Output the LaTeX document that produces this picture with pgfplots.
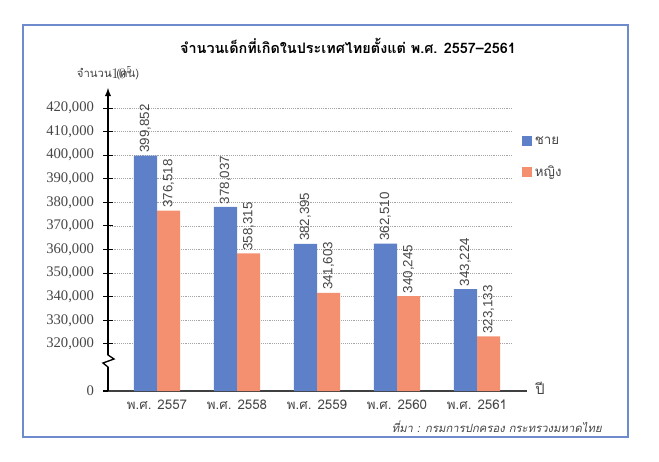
\documentclass[border=0pt]{standalone}
\usepackage{fontspec}
\usepackage{pgfplots}
\usepackage{pgfplotstable}
\pgfplotsset{compat=1.18}
\setmainfont[Script=Thai]{Loma}
\newfontfamily\thaifont[Script=Thai]{Loma}
\newfontfamily\thaisl[Script=Thai,FakeSlant=0.2]{Loma}
\newfontfamily\arialf{Liberation Sans}
\newfontfamily\timesf{Liberation Serif}
\definecolor{barblue}{RGB}{94,128,200}
\definecolor{barorange}{RGB}{244,144,112}
\definecolor{framecol}{RGB}{110,140,205}
\definecolor{labgray}{RGB}{70,70,70}

\pgfplotstableread{
x male female mlab flab
0 399852 376518 399,852 376,518
1 378037 358315 378,037 358,315
2 362395 341603 382,395 341,603
3 362510 340245 362,510 340,245
4 343224 323133 343,224 323,133
}\births

\begin{document}
\begin{tikzpicture}
\begin{axis}[
  scale only axis,
  width=303.75pt, height=227.25pt,
  xmin=-0.6125, xmax=4.45,
  ymin=0, ymax=128500,
  ybar,
  bar width=0.29,
  axis x line=bottom, axis y line=left,
  x axis line style={-, line width=1.1pt, black!75},
  y axis line style={-latex, line width=1.1pt, black},
  xtick={0,1,2,3,4},
  xticklabels={พ.ศ. 2557,พ.ศ. 2558,พ.ศ. 2559,พ.ศ. 2560,พ.ศ. 2561},
  x tick label style={font=\thaifont\fontsize{10}{12}\selectfont, text=labgray},
  major x tick style={draw=none},
  ytick={0,20000,30000,40000,50000,60000,70000,80000,90000,100000,110000,120000},
  yticklabels={0,{320,000},{330,000},{340,000},{350,000},{360,000},{370,000},{380,000},{390,000},{400,000},{410,000},{420,000}},
  y tick label style={font=\timesf\fontsize{11}{12}\selectfont, text=labgray, xshift=-3.5pt},
  major y tick style={black, line width=0.8pt},
  tick align=center, major tick length=7pt,
  ymajorgrids, grid style={densely dotted, gray!70, line width=0.6pt},
  clip=false,
  legend style={at={(1.022,0.85)}, anchor=north west, draw=none, fill=none,
    font=\thaifont\fontsize{10}{12}\selectfont, row sep=10.5pt, inner sep=0pt,
    text=labgray},
  legend cell align=left,
  nodes near coords,
  point meta=explicit symbolic,
  every node near coord/.append style={rotate=90, anchor=west, inner sep=2pt,
    font=\arialf\fontsize{10}{12}\selectfont, text=labgray},
]
\addplot[fill=barblue, draw=none, bar shift=-0.145,
  legend image code/.code={\fill[barblue] (0pt,-3.75pt) rectangle (7.5pt,3.75pt);}]
  table[x=x, y expr=\thisrow{male}-300000, meta=mlab]{\births};
\addlegendentry{ชาย}
\addplot[fill=barorange, draw=none, bar shift=0.145,
  legend image code/.code={\fill[barorange] (0pt,-3.75pt) rectangle (7.5pt,3.75pt);}]
  table[x=x, y expr=\thisrow{female}-300000, meta=flab]{\births};
\addlegendentry{หญิง}
\coordinate (bl) at (rel axis cs:0,0);
\end{axis}
% x axis extension
\draw[line width=1.1pt, black!75] ([xshift=303pt]bl) -- ([xshift=314.25pt]bl);
% axis break
\draw[white, line width=3pt] ([yshift=18pt]bl) -- ([yshift=27pt]bl);
\draw[black, line width=1pt] ([yshift=27.5pt]bl) -- ([shift={(0pt,27pt)}]bl) -- ([shift={(4.5pt,24pt)}]bl) -- ([shift={(-3.75pt,21pt)}]bl) -- ([shift={(0pt,18pt)}]bl) -- ([yshift=17.5pt]bl);
% texts
\node[font=\thaifont\bfseries\fontsize{10.8}{13}\selectfont] at ([shift={(180pt,258.75pt)}]bl) {จำนวนเด็กที่เกิดในประเทศไทยตั้งแต่ พ.ศ. 2557–2561};
\node[font=\thaifont\fontsize{8.5}{10}\selectfont, text=labgray, anchor=base east, inner sep=0pt] at ([shift={(3pt,235pt)}]bl) {จำนวน};
\node[font=\thaifont\fontsize{8.5}{10}\selectfont, text=labgray, anchor=base west, inner sep=0pt] at ([shift={(6pt,235pt)}]bl) {(คน)};
\node[font=\thaifont\fontsize{11}{12}\selectfont, text=labgray] at ([shift={(324pt,2.25pt)}]bl) {ปี};
\node[font=\thaisl\fontsize{8.5}{10}\selectfont, text=labgray, anchor=base east, inner sep=0pt] at ([shift={(370.5pt,-31pt)}]bl) {ที่มา : กรมการปกครอง กระทรวงมหาดไทย};
% frame
\draw[framecol, line width=1.2pt] ([shift={(-63.75pt,-34.5pt)}]bl) rectangle ([shift={(390pt,274.5pt)}]bl);
\pgfresetboundingbox
\path[use as bounding box] ([shift={(-81pt,-52.5pt)}]bl) rectangle ([shift={(413.25pt,293.25pt)}]bl);
\end{tikzpicture}
\end{document}
